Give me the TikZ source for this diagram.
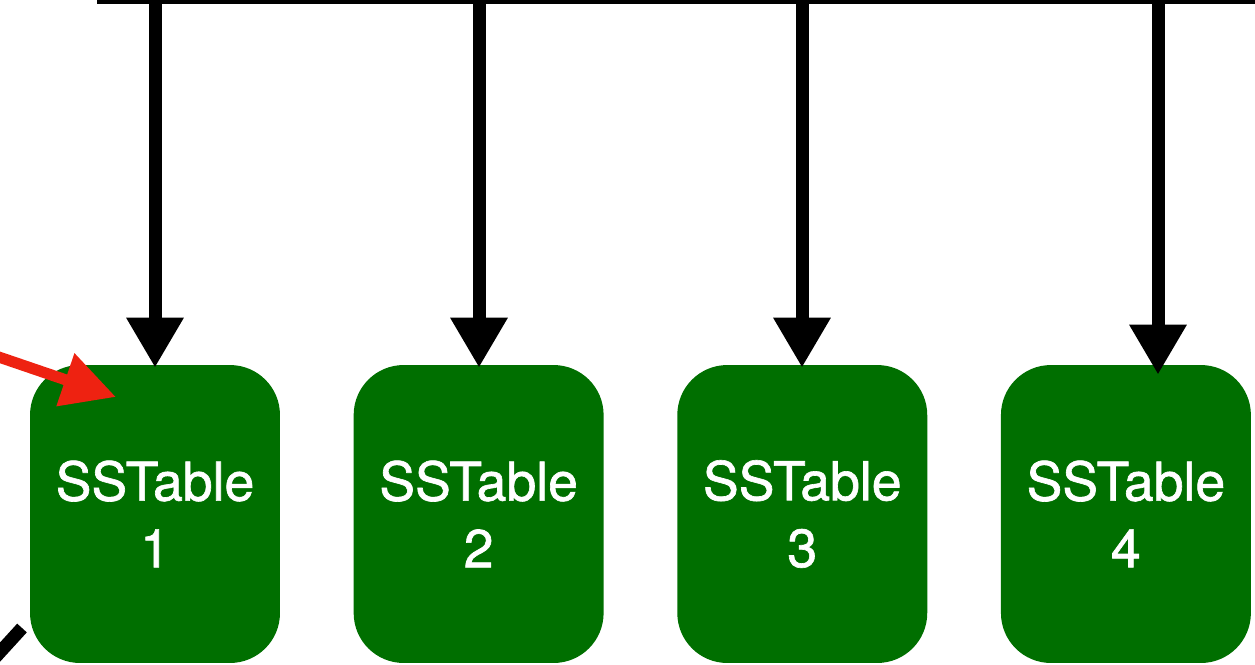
\documentclass[tikz,border=0pt]{standalone}
\usepackage{fontspec}
\setmainfont{TeX Gyre Heros}
\usepackage{tikz}
\usetikzlibrary{arrows.meta,positioning}
\definecolor{tablegreen}{RGB}{0,111,0}
\definecolor{hitred}{RGB}{238,34,17}

\begin{document}
\begin{tikzpicture}[
  x=0.02cm, y=-0.02cm,
  sst/.style={fill=tablegreen, text=white, rounded corners=1cm, align=center,
    minimum width=5cm, minimum height=5.96cm, inner sep=0pt,
    font=\fontsize{30.5}{38}\selectfont\addfontfeature{FakeBold=1.2}},
  feed/.style={-{Triangle[length=1cm, width=1.08cm]}, line width=7.4pt},
  hit/.style={-{Triangle[length=1.07cm, width=1.06cm]}, line width=6.3pt, hitred}
]
\clip (0,0) rectangle (1255,664);
% --- SSTables in one row ---
\node[sst] (t1) at (155,514) {SSTable\\1};
\node[sst, right=1.46cm of t1] (t2) {SSTable\\2};
\node[sst, right=1.46cm of t2] (t3) {SSTable\\3};
\node[sst, right=1.46cm of t3] (t4) {SSTable\\4};

% --- bus along the top, one drop per table ---
\coordinate (busl) at (97,0);
\coordinate (busr) at (1260,0);
\draw[line width=4.6pt] (busl) -- (busr);
\coordinate (d1) at (155,0);
\coordinate (d2) at (479,0);
\coordinate (d3) at (802,0);
\coordinate (d4) at (1158,0);
\draw[feed, shorten >=-0.06cm] (d1) -- (d1 |- t1.north);
\draw[feed, shorten >=-0.06cm] (d2) -- (d2 |- t2.north);
\draw[feed, shorten >=-0.06cm] (d3) -- (d3 |- t3.north);
\draw[feed, shorten >=-0.2cm] (d4) -- (d4 |- t4.north);

% --- incoming pointers from the left ---
\coordinate (src) at (-10,354);
\coordinate (tip) at (116,397);
\draw[hit] (src) -- (tip);
\coordinate (stubin) at (22,628);
\coordinate (stubout) at (-30,685);
\draw[line width=7.4pt] (stubin) -- (stubout);
\end{tikzpicture}
\end{document}
